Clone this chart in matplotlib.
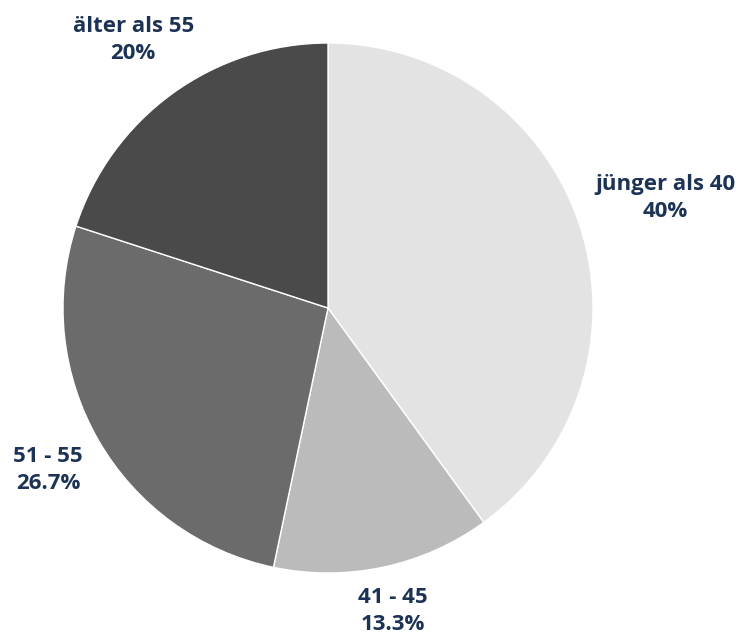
import numpy as np
import matplotlib
matplotlib.use("Agg")
import matplotlib.pyplot as plt

categories = ["jünger als 40", "41 - 45", "51 - 55", "älter als 55"]
values = [40, 13.3, 26.7, 20]
pct_labels = ["40%", "13.3%", "26.7%", "20%"]

colors = ["#e3e3e3", "#bbbbbb", "#6b6b6b", "#4a4a4a"]
label_dist = [1.34, 1.17, 1.22, 1.25]
text_color = "#1c3356"

W, H = 741, 634
cx, cy, R = 328, 308, 265

fig = plt.figure(figsize=(W / 100, H / 100), dpi=100)
ax = fig.add_axes([0, 0, 1, 1])
wedges, _ = ax.pie(values, colors=colors, startangle=90, counterclock=False,
                   radius=1, wedgeprops=dict(edgecolor="white", linewidth=1.0))
ax.set_xlim(-cx / R, (W - cx) / R)
ax.set_ylim(-(H - cy) / R, cy / R)
ax.set_aspect("equal")
ax.axis("off")

for w, cat, pl, d in zip(wedges, categories, pct_labels, label_dist):
    ang = np.deg2rad((w.theta1 + w.theta2) / 2)
    ax.text(d * np.cos(ang), d * np.sin(ang), f"{cat}\n{pl}", ha="center", va="center",
            fontsize=16, fontweight="bold", color=text_color, family="Open Sans",
            linespacing=1.38)

fig.savefig("out.png", dpi=100)
